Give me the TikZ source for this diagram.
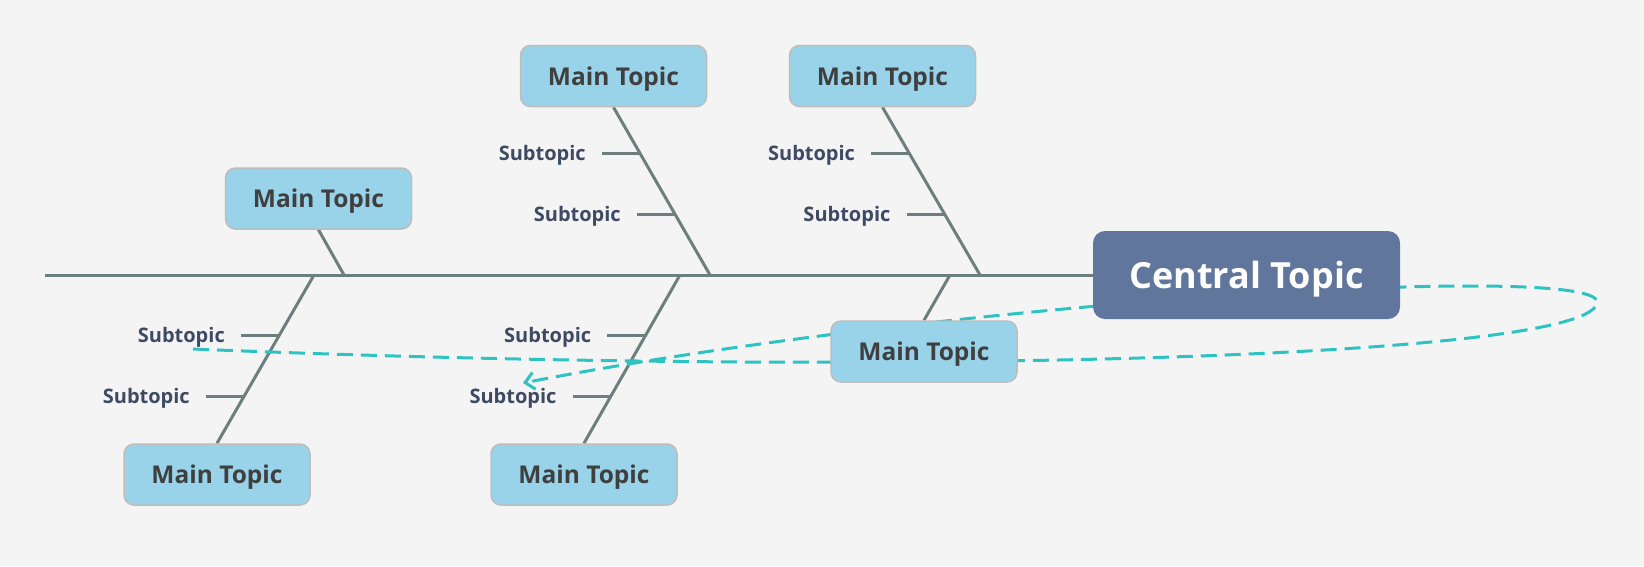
\documentclass[tikz,border=0pt]{standalone}
\usepackage{fontspec}
\setmainfont{Open Sans}
\usetikzlibrary{arrows.meta, positioning, calc}
\usepackage{xcolor}
\definecolor{paper}{HTML}{F4F4F4}
\definecolor{centralfill}{HTML}{61769C}
\definecolor{mainfill}{HTML}{98D3E9}
\definecolor{mainline}{HTML}{BDBDBD}
\definecolor{maintext}{HTML}{3F3F3F}
\definecolor{subtext}{HTML}{3E4A64}
\definecolor{bonegray}{HTML}{6C7F7E}
\definecolor{relcyan}{HTML}{2EC3C3}
\pgfdeclarelayer{background}
\pgfsetlayers{background,main}
\tikzset{
  central/.style   = {rounded corners=12pt, fill=centralfill, text=white,
                      font=\fontsize{36}{40}\selectfont\bfseries, text depth=0pt,
                      minimum width=307pt, minimum height=88pt, inner sep=0pt},
  maintopic/.style = {draw=mainline, line width=1.5pt, rounded corners=10pt, fill=mainfill,
                      text=maintext, font=\fontsize{24.5}{28}\selectfont\bfseries, text depth=0pt,
                      minimum width=186pt, minimum height=61pt, inner sep=0pt},
  subtopic/.style  = {text=subtext, font=\fontsize{20}{24}\selectfont\bfseries,
                      anchor=base east, inner sep=0pt},
  bone/.style      = {draw=bonegray, line width=3pt},
  subbone/.style   = {draw=bonegray, line width=3pt},
  relation/.style  = {draw=relcyan, line width=3pt, dash pattern=on 16pt off 8pt,
                      -{Straight Barb[length=9pt, width=17pt]}}
}

\begin{document}
\begin{tikzpicture}[x=1pt, y=-1pt]
\begin{pgfonlayer}{background}
\fill[paper] (0,0) rectangle (1644,566);
\end{pgfonlayer}
\useasboundingbox (0,0) rectangle (1644,566);

\node[central] (central) at (1246.5,275) {Central Topic};
\node[maintopic] (t1) at (613.5,76) {Main Topic};
\node[maintopic] (t2) at (882.5,76) {Main Topic};
\node[maintopic] (t3) at (318.5,198.5) {Main Topic};
\node[maintopic] (b1) at (217,474.5) {Main Topic};
\node[maintopic] (b2) at (584,474.5) {Main Topic};
\node[maintopic] (b3) at (924,351.5) {Main Topic};

\coordinate (tail) at (45,275);
\coordinate (s1) at (710,275);
\coordinate (s2) at (980,275);
\coordinate (s3) at (344,275);
\coordinate (s4) at (314,275);
\coordinate (s5) at (680,275);
\coordinate (s6) at (950,275);
\coordinate (relfrom) at (193,349);
\coordinate (relto) at (523,383);

\begin{pgfonlayer}{background}
\draw[bone] (tail) -- (central.west);
\draw[bone] (t1.south) -- coordinate[pos=0.274] (t1a) coordinate[pos=0.637] (t1b) (s1);
\draw[bone] (t2.south) -- coordinate[pos=0.274] (t2a) coordinate[pos=0.637] (t2b) (s2);
\draw[bone] (t3.south) -- (s3);
\draw[bone] (s4) -- coordinate[pos=0.361] (b1a) coordinate[pos=0.722] (b1b) (b1.north);
\draw[bone] (s5) -- coordinate[pos=0.361] (b2a) coordinate[pos=0.722] (b2b) (b2.north);
\draw[bone] (s6) -- (b3.north);
\end{pgfonlayer}

\node[subtopic] (st1a) at ($(t1a)+(-54,7)$) {Subtopic};
\node[subtopic] (st1b) at ($(t1b)+(-54,7)$) {Subtopic};
\node[subtopic] (st2a) at ($(t2a)+(-54,7)$) {Subtopic};
\node[subtopic] (st2b) at ($(t2b)+(-54,7)$) {Subtopic};
\node[subtopic] (sb1a) at ($(b1a)+(-54,7)$) {Subtopic};
\node[subtopic] (sb1b) at ($(b1b)+(-54,7)$) {Subtopic};
\node[subtopic] (sb2a) at ($(b2a)+(-54,7)$) {Subtopic};
\node[subtopic] (sb2b) at ($(b2b)+(-54,7)$) {Subtopic};

\begin{pgfonlayer}{background}
\draw[subbone] ([xshift=16pt]st1a.base east |- t1a) -- (t1a);
\draw[subbone] ([xshift=16pt]st1b.base east |- t1b) -- (t1b);
\draw[subbone] ([xshift=16pt]st2a.base east |- t2a) -- (t2a);
\draw[subbone] ([xshift=16pt]st2b.base east |- t2b) -- (t2b);
\draw[subbone] ([xshift=16pt]sb1a.base east |- b1a) -- (b1a);
\draw[subbone] ([xshift=16pt]sb1b.base east |- b1b) -- (b1b);
\draw[subbone] ([xshift=16pt]sb2a.base east |- b2a) -- (b2a);
\draw[subbone] ([xshift=16pt]sb2b.base east |- b2b) -- (b2b);
\draw[relation] (relfrom) .. controls (900,378) and (1597,358) .. (1597,302)
  .. controls (1597,262) and (950,300) .. (relto);
\end{pgfonlayer}
\end{tikzpicture}
\end{document}
